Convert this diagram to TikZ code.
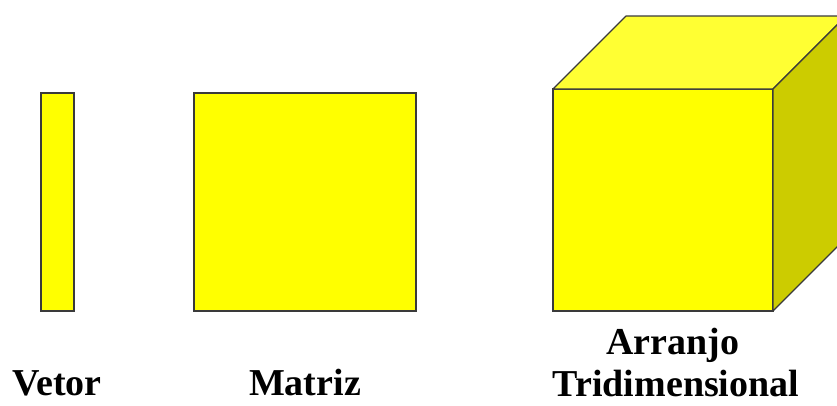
\documentclass[tikz,border=0pt]{standalone}
\usepackage{fontspec}
\setmainfont{Liberation Serif}
\usetikzlibrary{positioning}
\definecolor{frontyellow}{HTML}{FFFF00}
\definecolor{topyellow}{HTML}{FFFF33}
\definecolor{sideyellow}{HTML}{CCCC00}
\definecolor{edgegray}{HTML}{3A3A3A}
\def\depth{73}
\tikzset{
   facebox/.style={draw=edgegray, line width=1.2pt, fill=frontyellow, inner sep=0pt, outer sep=0pt, anchor=north west},
   facepath/.style={draw=edgegray, line width=1.2pt, line join=round},
   caption/.style={font=\bfseries\fontsize{38}{44}\selectfont, anchor=base}
}
\begin{document}
\begin{tikzpicture}[x=1pt, y=-1pt]
\useasboundingbox (0,0) rectangle (837,405);
\clip (0,0) rectangle (837,405);
% vector and matrix
\node[facebox, minimum width=33pt, minimum height=218pt] (vetor) at (41,93) {};
\node[facebox, minimum width=222pt, minimum height=218pt] (matriz) at (194,93) {};
% cube: front face, then top and side
\node[facebox, minimum width=220pt, minimum height=222pt] (cubo) at (553,89) {};
\coordinate (topleft) at ([shift={(\depth,-\depth)}]cubo.north west);
\coordinate (topright) at ([shift={(\depth,-\depth)}]cubo.north east);
\coordinate (backright) at ([shift={(\depth,-\depth)}]cubo.south east);
\filldraw[facepath, fill=topyellow] (cubo.north west) -- (topleft) -- (topright) -- (cubo.north east) -- cycle;
\filldraw[facepath, fill=sideyellow] (cubo.north east) -- (topright) -- (backright) -- (cubo.south east) -- cycle;
% labels
\node[caption] (vetorlabel) at (57,395) {Vetor};
\node[caption] (matrizlabel) at (305,395) {Matriz};
\node[caption] (arranjolabel) at (673,354) {Arranjo};
\node[caption] (tridlabel) at (676,396) {Tridimensional};
\end{tikzpicture}
\end{document}
